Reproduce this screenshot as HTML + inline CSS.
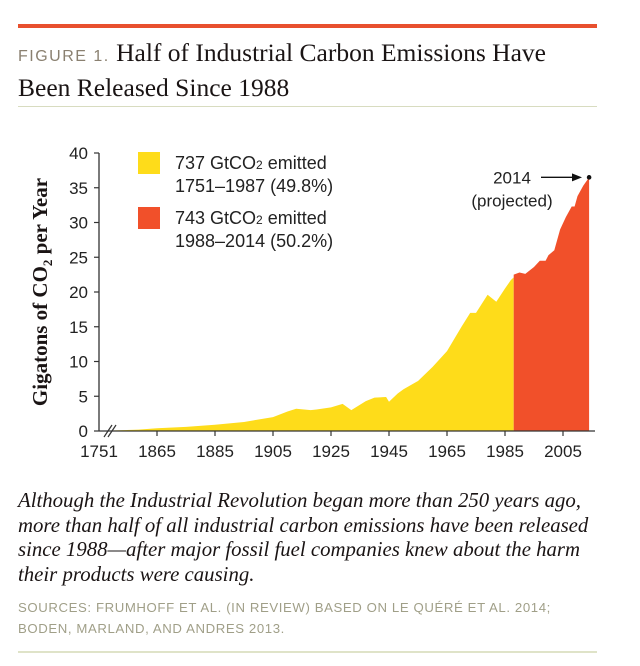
<!DOCTYPE html>
<html><head><meta charset="utf-8">
<style>
body{margin:0;background:#fff;width:640px;height:666px;position:relative;overflow:hidden;font-family:"Liberation Serif",serif}
.abs{position:absolute}
</style></head><body>
<div class="abs" style="left:18px;top:24px;width:579px;height:4px;background:#e8502e"></div>
<div class="abs" style="left:18px;top:37px;width:610px;font-size:25.5px;line-height:31px;color:#1a1414">
<span style="font-family:'Liberation Sans',sans-serif;font-size:16px;letter-spacing:1.5px;color:#8a8070">FIGURE 1.</span> Half of Industrial Carbon Emissions Have<br>Been Released Since 1988</div>
<div class="abs" style="left:18px;top:106px;width:579px;height:1px;background:#d8dcc0"></div>

<svg class="abs" style="left:0;top:110px" width="640" height="360">
<g id="plot"></g>
</svg>

<div class="abs" style="left:18px;top:489px;width:585px;font-size:20.8px;line-height:24.5px;font-style:italic;color:#1a1414">Although the Industrial Revolution began more than 250 years ago, more than half of all industrial carbon emissions have been released since 1988—after major fossil fuel companies knew about the harm their products were causing.</div>
<div class="abs" style="left:18px;top:597px;width:610px;font-family:'Liberation Sans',sans-serif;font-size:13.2px;line-height:21px;letter-spacing:0.6px;color:#a09f88">SOURCES: FRUMHOFF ET AL. (IN REVIEW) BASED ON LE QUÉRÉ ET AL. 2014;<br>BODEN, MARLAND, AND ANDRES 2013.</div>
<div class="abs" style="left:18px;top:651px;width:579px;height:2px;background:#dfe3c8"></div>

<script>
const years=[1751,1850,1865,1875,1885,1895,1905,1910,1913,1918,1920,1925,1929,1932,1937,1940,1944,1945,1948,1950,1955,1960,1965,1970,1973,1975,1979,1982,1985,1987,1988,1990,1992,1995,1997,1999,2000,2002,2004,2006,2008,2009,2010,2012,2014];
const emissions=[0.01,0.2,0.4,0.6,0.9,1.3,2.0,2.8,3.2,3.0,3.1,3.4,3.9,3.0,4.3,4.8,4.9,4.2,5.4,6.0,7.2,9.2,11.5,15.0,17.0,17.0,19.6,18.6,20.5,21.7,22.5,22.8,22.6,23.6,24.5,24.5,25.3,26.0,29.0,30.8,32.3,32.3,33.8,35.3,36.5];
const yTicks=[0,5,10,15,20,25,30,35,40];
const xTickLabels=[1751,1865,1885,1905,1925,1945,1965,1985,2005];
const splitYear=1988;
const NS="http://www.w3.org/2000/svg";
const g=document.getElementById('plot');
const OY=110;
function X(yr){ if(yr>=1860) return 157+(yr-1865)*2.9; return 99+ (yr-1751)/(1860-1751)*(157-5*2.9-99); }
function Y(v){ return 431-OY - v*6.95; }
function el(t,a){const e=document.createElementNS(NS,t);for(const k in a)e.setAttribute(k,a[k]);g.appendChild(e);return e;}
function interp(yr){for(let i=1;i<years.length;i++){if(yr<=years[i]){const t=(yr-years[i-1])/(years[i]-years[i-1]);return emissions[i-1]+t*(emissions[i]-emissions[i-1]);}}return emissions[emissions.length-1];}
let d1=`M${X(years[0])},${Y(0)}`;
for(let i=0;i<years.length&&years[i]<splitYear;i++) d1+=`L${X(years[i])},${Y(emissions[i])}`;
d1+=`L${X(splitYear)},${Y(interp(splitYear-0.5))}L${X(splitYear)},${Y(0)}Z`;
let a1=el('path',{d:d1,fill:'#fedc1a'});


let d2=`M${X(splitYear)},${Y(0)}`;
for(let i=0;i<years.length;i++) if(years[i]>=splitYear) d2+=`L${X(years[i])},${Y(emissions[i])}`;
d2+=`L${X(years[years.length-1])},${Y(0)}Z`;
let a2=el('path',{d:d2,fill:'#f1502a'});


let ax=el('line',{x1:99,y1:Y(40),x2:99,y2:Y(0),stroke:'#333','stroke-width':1.3});


let bx=el('line',{x1:99,y1:Y(0),x2:595,y2:Y(0),stroke:'#333','stroke-width':1.3});


el('line',{x1:104,y1:Y(0)+6,x2:112,y2:Y(0)-6,stroke:'#333','stroke-width':1.2});
el('line',{x1:108,y1:Y(0)+6,x2:116,y2:Y(0)-6,stroke:'#333','stroke-width':1.2});
yTicks.forEach(v=>{
 el('line',{x1:94,y1:Y(v),x2:99,y2:Y(v),stroke:'#333','stroke-width':1.2});
 const t=el('text',{x:88,y:Y(v)+6,'text-anchor':'end','font-size':17,'font-family':'Liberation Sans, sans-serif',fill:'#222'});
 t.textContent=v;
 
 
});
xTickLabels.forEach((yr,i)=>{
 const x=i===0?99:X(yr);
 if(i>0) el('line',{x1:x,y1:Y(0),x2:x,y2:Y(0)+5,stroke:'#333','stroke-width':1.2});
 const t=el('text',{x:x,y:Y(0)+26,'text-anchor':'middle','font-size':17,'font-family':'Liberation Sans, sans-serif',fill:'#222'});
 t.textContent=yr;
 
 
});
const yt=el('text',{transform:`translate(47,${Y(20)}) rotate(-90)`,'text-anchor':'middle','font-size':21,'font-weight':'bold','font-family':'Liberation Serif, serif',fill:'#1a1414'});
yt.innerHTML='Gigatons of CO<tspan font-size="13" dy="5">2</tspan><tspan dy="-5"> per Year</tspan>';


const leg=[['#fedc1a','737 GtCO','1751–1987 (49.8%)',42],['#f1502a','743 GtCO','1988–2014 (50.2%)',97]];
leg.forEach((l,i)=>{
 const r=el('rect',{x:138,y:l[3],width:22,height:22,fill:l[0]});
 
 
 const t=el('text',{x:175,y:l[3]+17,'font-size':18,'font-family':'Liberation Sans, sans-serif',fill:'#222'});
 t.innerHTML=l[1]+'<tspan font-size="12">2</tspan> emitted';
 
 
 const t2=el('text',{x:175,y:l[3]+40,'font-size':18,'font-family':'Liberation Sans, sans-serif',fill:'#222'});
 t2.textContent=l[2];
 
 
});
const lastX=X(years[years.length-1]),lastY=Y(emissions[emissions.length-1]);
const an=el('text',{x:512,y:lastY+6,'text-anchor':'middle','font-size':17,'font-family':'Liberation Sans, sans-serif',fill:'#222'});
an.textContent='2014';


const an2=el('text',{x:512,y:lastY+29,'text-anchor':'middle','font-size':17,'font-family':'Liberation Sans, sans-serif',fill:'#222'});
an2.textContent='(projected)';


el('line',{x1:541,y1:lastY,x2:572,y2:lastY,stroke:'#111','stroke-width':1.3});
el('path',{d:`M572,${lastY-4}L582,${lastY}L572,${lastY+4}Z`,fill:'#111'});
const dot=el('circle',{cx:lastX,cy:lastY,r:2.3,fill:'#111'});


</script>
</body></html>
